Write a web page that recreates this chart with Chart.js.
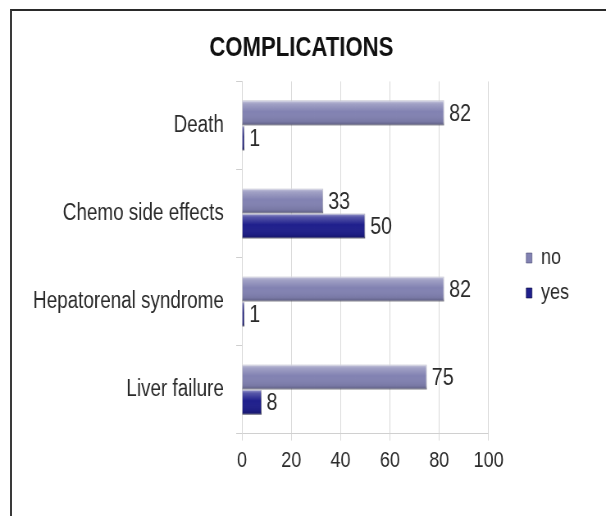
<!DOCTYPE html>
<html>
<head>
<meta charset="utf-8">
<title>Complications</title>
<script src="https://cdn.jsdelivr.net/npm/chart.js@4/dist/chart.umd.min.js"></script>
<style>
  html, body { margin: 0; padding: 0; background: #ffffff; }
  #wrap { position: relative; width: 606px; height: 516px; overflow: hidden; }
  #frame {
    position: absolute; left: 10px; top: 9px; width: 620px; height: 540px;
    border-top: 2px solid #2a2a2a; border-left: 2px solid #3a3a3a;
  }
  /* The chart is laid out on a wider canvas and squeezed horizontally,
     which gives the tall, condensed lettering of the original slide. */
  canvas {
    position: absolute; left: 0; top: 0;
    transform: scaleX(0.82); transform-origin: 0 0;
  }
</style>
</head>
<body>
<div id="wrap">
  <div id="frame"></div>
  <canvas id="chart" width="739" height="516"></canvas>
</div>
<script>
// Complications by category, split into "no" / "yes" counts
const categories = ['Death', 'Chemo side effects', 'Hepatorenal syndrome', 'Liver failure'];
const seriesNames = ['no', 'yes'];
const noValues = [82, 33, 82, 75];
const yesValues = [1, 50, 1, 8];
const axisMin = 0;
const axisMax = 100;
const axisStep = 20;

const FONT = "'Liberation Sans', Arial, Helvetica, sans-serif";
const TEXT = '#2a2a2a';
const NO_COLOR = '#8282b2';
const YES_COLOR = '#1f1f8c';

// Glossy shading over each bar plus the value printed at its end
const barFinish = {
  id: 'barFinish',
  afterDatasetsDraw(chart) {
    const ctx = chart.ctx;
    ctx.save();
    chart.data.datasets.forEach((ds, di) => {
      const meta = chart.getDatasetMeta(di);
      if (meta.hidden) return;
      meta.data.forEach((bar) => {
        const p = bar.getProps(['x', 'y', 'base', 'height'], true);
        const left = Math.min(p.x, p.base);
        const w = Math.abs(p.x - p.base);
        const top = p.y - p.height / 2;
        const g = ctx.createLinearGradient(0, top, 0, top + p.height);
        g.addColorStop(0, 'rgba(255,255,255,0.6)');
        g.addColorStop(0.14, 'rgba(255,255,255,0.25)');
        g.addColorStop(0.45, 'rgba(255,255,255,0.0)');
        g.addColorStop(0.85, 'rgba(0,0,0,0.08)');
        g.addColorStop(1, 'rgba(0,0,0,0.30)');
        ctx.fillStyle = g;
        ctx.fillRect(left, top, w, p.height);
      });
    });
    ctx.font = '24px ' + FONT;
    ctx.fillStyle = TEXT;
    ctx.textAlign = 'left';
    ctx.textBaseline = 'middle';
    chart.data.datasets.forEach((ds, di) => {
      const meta = chart.getDatasetMeta(di);
      if (meta.hidden) return;
      meta.data.forEach((bar, j) => {
        const p = bar.getProps(['x', 'y'], true);
        ctx.fillText(String(ds.data[j]), p.x + 6, p.y + 1);
      });
    });
    ctx.restore();
  }
};

// Moves the legend block off the plot edge, down beside the middle bars,
// and centres the title over the whole slide rather than the padded box
const blockOffsets = {
  id: 'blockOffsets',
  afterLayout(chart) {
    const lg = chart.legend;
    if (lg) {
      lg.left += 33; lg.right += 33;
      lg.top += 35; lg.bottom += 35;
    }
    const tb = chart.titleBlock;
    if (tb) {
      tb.left += 32; tb.right += 32;
    }
  }
};

new Chart(document.getElementById('chart'), {
  type: 'bar',
  data: {
    labels: categories,
    datasets: [
      {
        label: seriesNames[0],
        data: noValues,
        backgroundColor: NO_COLOR,
        borderColor: 'rgba(70,70,110,0.55)',
        borderWidth: 1,
        borderSkipped: 'left',
        categoryPercentage: 0.57,
        barPercentage: 1.0
      },
      {
        label: seriesNames[1],
        data: yesValues,
        backgroundColor: YES_COLOR,
        borderColor: 'rgba(10,10,60,0.6)',
        borderWidth: 1,
        borderSkipped: 'left',
        categoryPercentage: 0.57,
        barPercentage: 1.0
      }
    ]
  },
  options: {
    indexAxis: 'y',
    responsive: false,
    devicePixelRatio: 1,
    animation: false,
    layout: { padding: { left: 0, top: 0, right: 68, bottom: 35 } },
    plugins: {
      title: {
        display: true,
        text: 'COMPLICATIONS',
        color: '#111111',
        font: { family: FONT, size: 27, weight: 'bold' },
        padding: { top: 32, bottom: 17 }
      },
      legend: {
        position: 'right',
        labels: {
          boxWidth: 7,
          boxHeight: 10,
          padding: 13,
          color: TEXT,
          font: { family: FONT, size: 22 }
        }
      },
      tooltip: { enabled: false }
    },
    scales: {
      x: {
        min: axisMin,
        max: axisMax,
        ticks: {
          stepSize: axisStep,
          color: TEXT,
          padding: 7,
          font: { family: FONT, size: 22 }
        },
        grid: { color: '#d9d9d9', tickLength: 7 },
        border: { color: '#d0d0d0' }
      },
      y: {
        ticks: {
          color: TEXT,
          padding: 15,
          font: { family: FONT, size: 23 }
        },
        grid: { drawOnChartArea: false, tickLength: 7, color: '#cfcfcf' },
        border: { color: '#d9d9d9' },
        afterFit(axis) { axis.width = 295; }
      }
    }
  },
  plugins: [barFinish, blockOffsets]
});
</script>
</body>
</html>
